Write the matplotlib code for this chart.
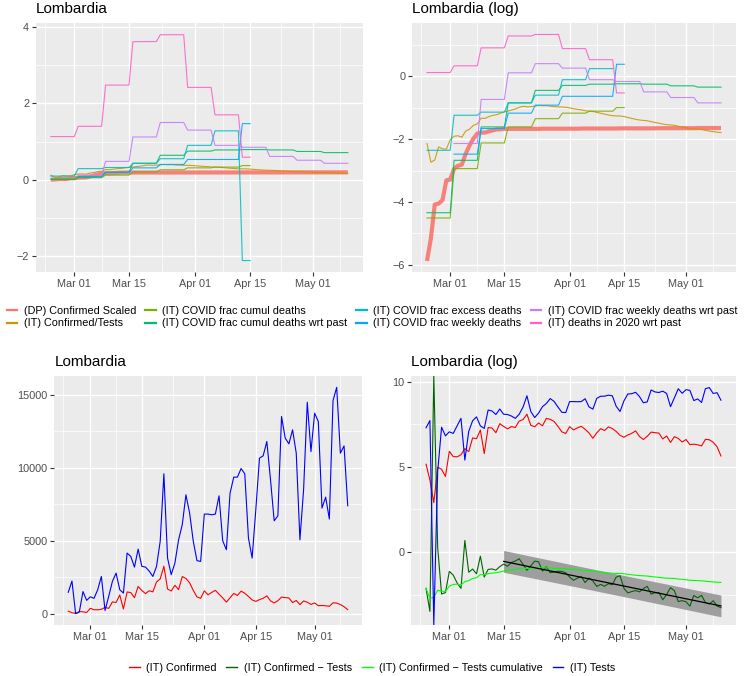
import numpy as np
import pandas as pd
import matplotlib
matplotlib.use('Agg')
import matplotlib.pyplot as plt
import matplotlib.dates as mdates
from matplotlib.lines import Line2D

plt.rcParams['font.family'] = ['Liberation Sans', 'DejaVu Sans']

W, H = 746, 676
DATES = pd.date_range('2020-02-24', '2020-05-10', freq='D')
N = len(DATES)

# daily counts, Lombardia
CONFIRMED = [172, 68, 18, 145, 128, 84, 369, 270, 266, 300,
             431, 361, 808, 769, 1280, 322, 1489, 1445, 1095, 1865,
             1587, 1377, 1571, 1493, 2171, 2380, 3251, 1691, 1555, 1942,
             1643, 2543, 2409, 2117, 1592, 1154, 1047, 1565, 1292, 1455,
             1598, 1337, 1079, 791, 1089, 1388, 1246, 1544, 1400, 1180,
             940, 840, 960, 1055, 1220, 880, 735, 890, 1135, 1100,
             1075, 760, 905, 620, 870, 785, 635, 735, 545, 560,
             540, 505, 745, 725, 625, 480, 280]
TESTS = [1463, 2237, 0, 112, 1515, 912, 1156, 1050, 1640, 2550,
         220, 1190, 2210, 2780, 1640, 1410, 4150, 3920, 3190, 4420,
         3240, 3190, 2920, 2550, 3240, 4950, 9580, 3810, 2670, 3470,
         5060, 6090, 8140, 6890, 4950, 3630, 3580, 6820, 6820, 6770,
         6820, 8070, 4990, 4380, 8250, 9350, 9350, 9940, 9580, 5180,
         3810, 7110, 10650, 10810, 11790, 9170, 6360, 6700, 13500, 12020,
         11630, 12590, 10990, 5060, 8500, 14480, 11100, 13730, 13160, 7230,
         7980, 6480, 14590, 15500, 10990, 11490, 7390]

# (DP) confirmed scaled, daily
DP_SCALED = [0.0028, 0.0057, 0.0169, 0.0174, 0.0194, 0.0365, 0.0373, 0.053, 0.058, 0.060,
             0.085, 0.111, 0.138, 0.162, 0.167, 0.167, 0.174, 0.179, 0.185, 0.185,
             0.188, 0.188, 0.188, 0.188, 0.188, 0.188, 0.188, 0.188, 0.188, 0.188,
             0.189, 0.189, 0.189, 0.189, 0.189, 0.189, 0.189, 0.189, 0.189, 0.189,
             0.190, 0.190, 0.190, 0.190, 0.190, 0.190, 0.190, 0.190, 0.190, 0.190,
             0.191, 0.191, 0.191, 0.191, 0.191, 0.191, 0.191, 0.191, 0.191, 0.191,
             0.192, 0.192, 0.192, 0.192, 0.192, 0.192, 0.192, 0.192, 0.192, 0.192,
             0.193, 0.193, 0.193, 0.193, 0.193, 0.193, 0.193]

# weekly series (weeks starting Mon Feb 24)
FRAC_CUMUL = [0.011, 0.053, 0.12, 0.20, 0.26, 0.31, 0.33, 0.37]
FRAC_CUMUL_WRT_PAST = [0.013, 0.069, 0.20, 0.43, 0.64, 0.75, 0.78, 0.79, 0.78, 0.74, 0.71]
FRAC_EXCESS = [0.095, 0.29, 0.32, 0.43, 0.55, 0.90, 1.28, -2.12]
FRAC_WEEKLY = [np.nan, 0.084, 0.19, 0.31, 0.40, 0.53, 0.53, 1.47]
FRAC_WEEKLY_WRT_PAST = [np.nan, 0.118, 0.48, 1.12, 1.50, 1.30, 0.90, 0.85, 0.61, 0.51, 0.43]
DEATHS_2020_WRT_PAST = [1.13, 1.40, 2.48, 3.62, 3.80, 2.42, 1.70, 0.59]
ISTAT_LAST_DAY = '2020-04-15'

TOP_LABELS = ['(DP) Confirmed Scaled', '(IT) Confirmed/Tests', '(IT) COVID frac cumul deaths',
              '(IT) COVID frac cumul deaths wrt past', '(IT) COVID frac excess deaths',
              '(IT) COVID frac weekly deaths', '(IT) COVID frac weekly deaths wrt past',
              '(IT) deaths in 2020 wrt past']
TOP_COLORS = ['#F8766D', '#CD9600', '#7CAE00', '#00BE67', '#00BFC4', '#00A9FF', '#C77CFF', '#FF61CC']
BOT_LABELS = ['(IT) Confirmed', '(IT) Confirmed \u2212 Tests', '(IT) Confirmed \u2212 Tests cumulative', '(IT) Tests']
BOT_COLORS = ['red', 'darkgreen', '#00FF00', 'blue']


def weekly(vals):
    out = np.full(N, np.nan)
    for i, v in enumerate(vals):
        out[i * 7:(i + 1) * 7] = v
    if len(vals) < 11:
        out[DATES > pd.Timestamp(ISTAT_LAST_DAY)] = np.nan
    return out


conf = np.array(CONFIRMED, dtype=float)
tests = np.array(TESTS, dtype=float)
ratio_cum = np.cumsum(conf) / np.cumsum(tests)

top_series = [np.array(DP_SCALED), ratio_cum, weekly(FRAC_CUMUL), weekly(FRAC_CUMUL_WRT_PAST),
              weekly(FRAC_EXCESS), weekly(FRAC_WEEKLY), weekly(FRAC_WEEKLY_WRT_PAST),
              weekly(DEATHS_2020_WRT_PAST)]

with np.errstate(divide='ignore', invalid='ignore'):
    top_log = [np.log(s) for s in top_series]
    log_conf = np.log(conf)
    log_tests = np.log(tests)
    log_ct = log_conf - log_tests
    log_ct_cum = np.log(ratio_cum)

MAJOR = pd.to_datetime(['2020-03-01', '2020-03-15', '2020-04-01', '2020-04-15', '2020-05-01'])
MINOR = pd.to_datetime(['2020-02-22 12:00', '2020-03-08 00:00', '2020-03-23 12:00', '2020-04-08 00:00',
                        '2020-04-23 00:00', '2020-05-08 00:00'])

fig = plt.figure(figsize=(W / 100, H / 100), dpi=100)


def panel(left, top, right, bottom, ylim, ymajor, yminor, title):
    ax = fig.add_axes([left / W, 1 - bottom / H, (right - left) / W, (bottom - top) / H])
    ax.set_facecolor('#EBEBEB')
    for s in ax.spines.values():
        s.set_visible(False)
    ax.set_xlim(DATES[0] - pd.Timedelta(days=3.8), DATES[-1] + pd.Timedelta(days=3.8))
    ax.set_xticks(MAJOR)
    ax.set_xticks(MINOR, minor=True)
    ax.xaxis.set_major_formatter(mdates.DateFormatter('%b %d'))
    ax.set_ylim(*ylim)
    ax.set_yticks(ymajor)
    ax.set_yticks(yminor, minor=True)
    ax.grid(which='major', color='white', lw=1.0)
    ax.grid(which='minor', color='white', lw=0.5)
    ax.set_axisbelow(True)
    ax.tick_params(which='major', length=3, width=0.8, color='#333333',
                   labelsize=7.8, labelcolor='#4D4D4D', pad=2)
    ax.tick_params(which='minor', length=0)
    fig.text(left / W, 1 - (top - 10) / H, title, fontsize=11, ha='left', va='baseline')
    return ax


# top left: linear
ax1 = panel(36, 23.3, 362.7, 272, (-2.42, 4.1), [-2, 0, 2, 4], [-1, 1, 3], 'Lombardia')
# top right: log
ax2 = panel(412.3, 23.3, 735.7, 272, (-6.23, 1.69), [-6, -4, -2, 0], [-5, -3, -1, 1], 'Lombardia (log)')
for ax, data in ((ax1, top_series), (ax2, top_log)):
    for i, (s, c) in enumerate(zip(data, TOP_COLORS)):
        if i == 0:
            ax.plot(DATES, s, color=c, lw=3.0, alpha=0.9, solid_capstyle='butt')
        else:
            ax.plot(DATES, s, color=c, lw=0.8, alpha=0.9)

# bottom left: linear counts
ax3 = panel(54.3, 376, 361.7, 625, (-775, 16275), [0, 5000, 10000, 15000], [2500, 7500, 12500], 'Lombardia')
ax3.plot(DATES, conf, color=BOT_COLORS[0], lw=0.8)
ax3.plot(DATES, tests, color=BOT_COLORS[3], lw=0.8)

# bottom right: log counts, infinite values pinned to the panel edge as ggplot does
ylim4 = (-4.29, 10.33)
ax4 = panel(411.3, 376, 735.7, 625, ylim4, [0, 5, 10], [-2.5, 2.5, 7.5], 'Lombardia (log)')
for s, c in zip([log_conf, log_ct, log_ct_cum, log_tests], BOT_COLORS):
    s = np.where(np.isposinf(s), ylim4[1], np.where(np.isneginf(s), ylim4[0], s))
    ax4.plot(DATES, s, color=c, lw=0.8, zorder=3)

# linear fit of log(confirmed/tests) from Mar 15, with 99% prediction band
sel = DATES >= pd.Timestamp('2020-03-15')
xd = np.arange(N)[sel].astype(float)
yd = log_ct[sel]
coef = np.polyfit(xd, yd, 1)
fit = np.polyval(coef, xd)
n = len(xd)
s_res = np.sqrt(np.sum((yd - fit) ** 2) / (n - 2))
se = s_res * np.sqrt(1 + 1 / n + (xd - xd.mean()) ** 2 / np.sum((xd - xd.mean()) ** 2))
ax4.fill_between(DATES[sel], fit - 2.67 * se, fit + 2.67 * se, color='#9E9E9E', lw=0, zorder=2)
ax4.plot(DATES[sel], fit, color='black', lw=0.9, zorder=4)

# legends
top_handles = [Line2D([], [], color=c, lw=1.6) for c in TOP_COLORS]
fig.legend(top_handles, TOP_LABELS, ncol=4, loc='center', bbox_to_anchor=(372 / W, 1 - 317 / H),
           frameon=False, fontsize=7.8, handlelength=1.0, handletextpad=0.6,
           columnspacing=0.8, labelspacing=0.25)
bot_handles = [Line2D([], [], color=c, lw=1.0) for c in BOT_COLORS]
fig.legend(bot_handles, BOT_LABELS, ncol=4, loc='center', bbox_to_anchor=(372 / W, 1 - 668 / H),
           frameon=False, fontsize=7.8, handlelength=1.0, handletextpad=0.6, columnspacing=0.9)

fig.savefig('out.png', dpi=100, facecolor='white')
